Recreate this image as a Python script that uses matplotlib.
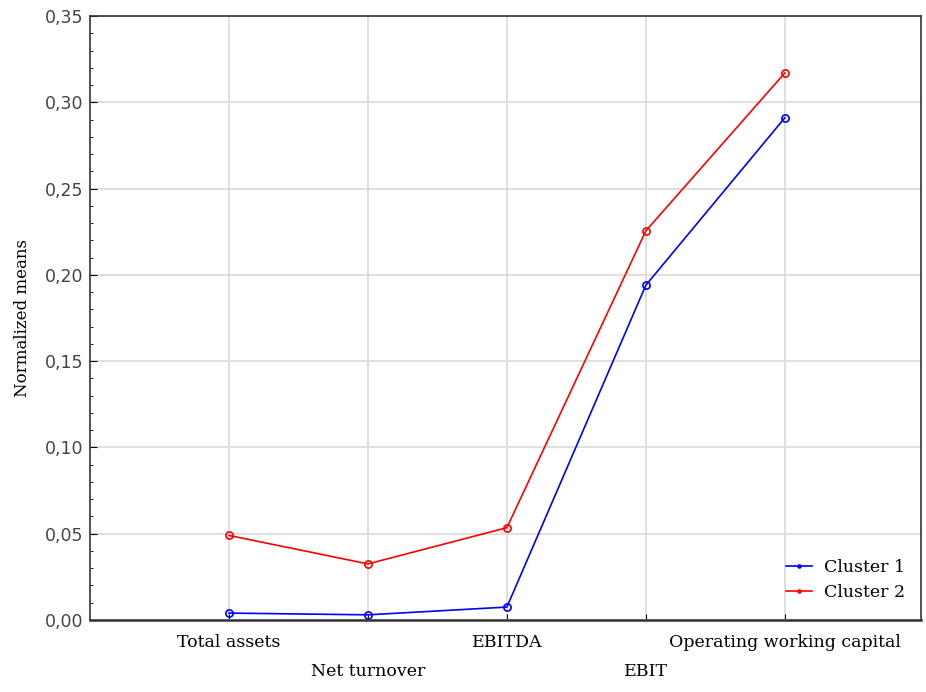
import numpy as np
import matplotlib.pyplot as plt
from matplotlib.ticker import FixedLocator, MultipleLocator, FuncFormatter

# Datos
categorias = ['Total assets', 'Net turnover', 'EBITDA', 'EBIT', 'Operating working capital']
cluster1 = [0.004, 0.003, 0.0075, 0.194, 0.291]
cluster2 = [0.049, 0.0325, 0.0535, 0.2255, 0.317]

x = np.arange(1, len(categorias) + 1)

fig = plt.figure(figsize=(9.26, 6.92), dpi=100)
ax = fig.add_axes([90/926, 72/692, 831/926, 604/692])

ax.plot(x, cluster1, color='blue', lw=1.2, marker='o', ms=5.2, mfc='none', mew=1.2, label='Cluster 1')
ax.plot(x, cluster2, color='red', lw=1.2, marker='o', ms=5.2, mfc='none', mew=1.2, label='Cluster 2')

ax.set_xlim(0, 5.98)
ax.set_ylim(0, 0.35)
ax.yaxis.set_major_locator(MultipleLocator(0.05))
ax.yaxis.set_minor_locator(MultipleLocator(0.01))
ax.yaxis.set_major_formatter(FuncFormatter(lambda v, p: f'{v:.2f}'.replace('.', ',')))
ax.xaxis.set_major_locator(FixedLocator(x))
ax.set_xticklabels(categorias, family='DejaVu Serif', fontsize=12.5)
for i, t in enumerate(ax.get_xticklabels()):
    if i % 2 == 1:
        t.set_y(-0.048)

ax.grid(True, color='#dcdcdc', lw=1.3)
ax.set_axisbelow(True)
ax.tick_params(axis='y', which='major', direction='in', length=5, labelsize=12.5, pad=5)
ax.tick_params(axis='y', which='minor', direction='in', length=2.5)
ax.tick_params(axis='x', direction='in', length=4, pad=10)
for t in ax.get_yticklabels():
    t.set_color('#444444')
for s in ax.spines.values():
    s.set_color('#333333')
    s.set_linewidth(1.2)
ax.spines['bottom'].set_linewidth(1.8)

ax.set_ylabel('Normalized means', family='DejaVu Serif', fontsize=12, labelpad=10)

leg = ax.legend(loc='lower right', frameon=False, prop={'family': 'DejaVu Serif', 'size': 12.5},
                markerscale=0.4, handlelength=1.5, handletextpad=0.7, bbox_to_anchor=(1.0, 0.005))

fig.savefig('out.png', dpi=100)
